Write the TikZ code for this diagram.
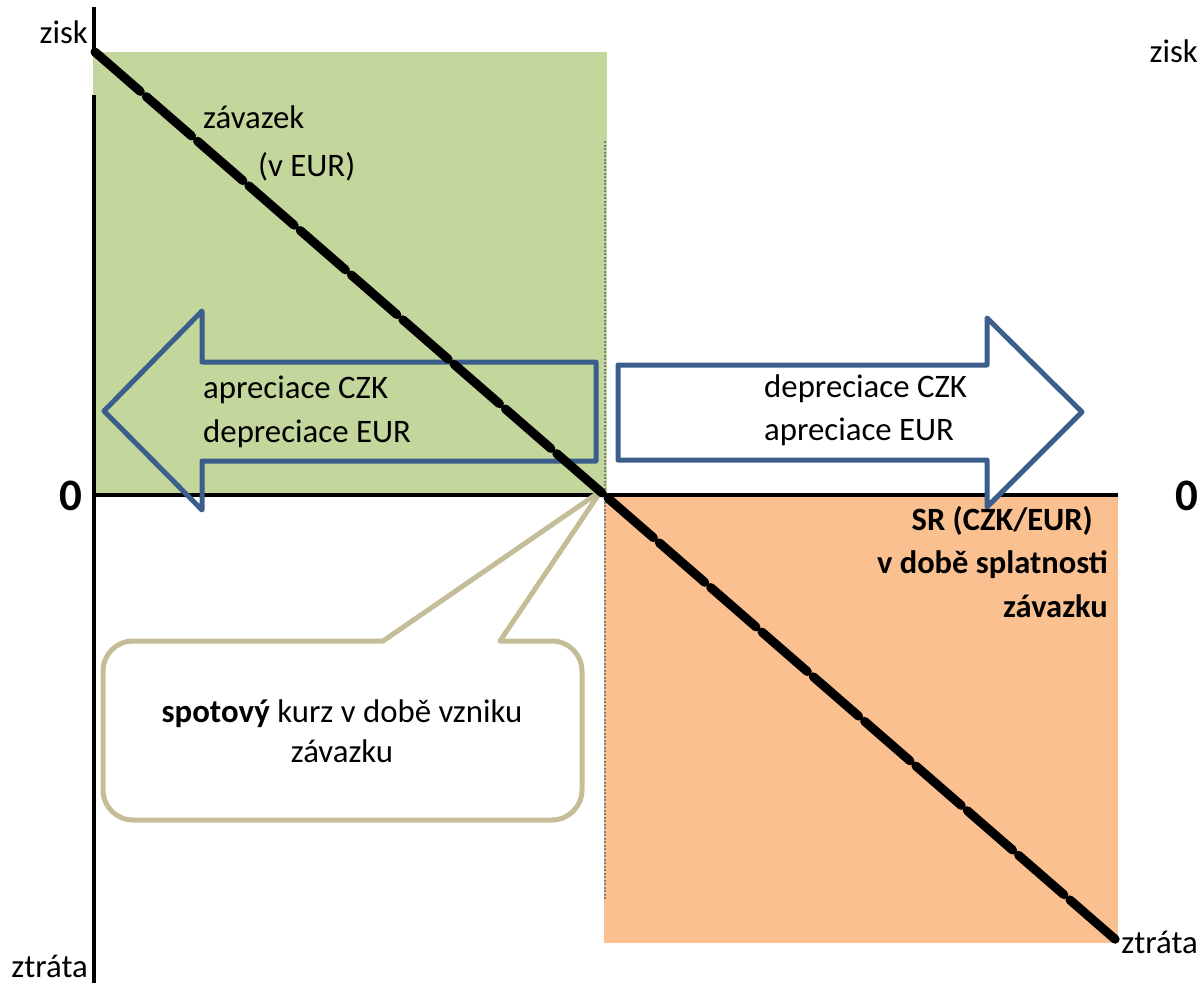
\documentclass[tikz,border=0pt]{standalone}
\usepackage{fontspec}
\setmainfont{Carlito}
\definecolor{gaingreen}{HTML}{C3D69B}
\definecolor{lossorange}{HTML}{FAC090}
\definecolor{arrowblue}{HTML}{3B5E8C}
\definecolor{bubbleline}{HTML}{C4BD97}
\begin{document}
\begin{tikzpicture}[x=1pt,y=-1pt,
  lbl/.style={inner sep=0pt, font=\fontsize{32.8}{38}\selectfont},
  boldlbl/.style={inner sep=0pt, font=\fontsize{32.5}{38}\selectfont\bfseries},
  zero/.style={inner sep=0pt, font=\fontsize{45}{50}\selectfont\bfseries},
  axis/.style={line width=3.5pt, black},
  payoff/.style={line width=9pt, line cap=round, dash pattern=on 60pt off 8pt},
  fxarrow/.style={draw=arrowblue, line width=5pt, line join=round},
  bubble/.style={draw=bubbleline, fill=white, line width=5pt, line join=round},
]
\path[use as bounding box] (0,0) rectangle (1201,983);

% profit and loss regions
\fill[gaingreen] (93,52) rectangle (607,495);
\fill[lossorange] (604,495) rectangle (1118,943);
\draw[gray, line width=1.5pt, dash pattern=on 2pt off 1.5pt] (605,141) -- (605,900);

% axes
\coordinate (ytop) at (94,7);
\coordinate (ygap1) at (94,52);
\coordinate (ygap2) at (94,95);
\coordinate (ybot) at (94,983);
\coordinate (xleft) at (93,495);
\coordinate (xright) at (1118,495);
\draw[axis] (ytop) -- (ygap1);
\draw[axis] (ygap2) -- (ybot);
\draw[axis] (xleft) -- (xright);

% currency movement arrows
\draw[fxarrow] (104,411) -- (202,311) -- (202,362) -- (596,362) -- (596,461)
  -- (202,461) -- (202,510) -- cycle;
\draw[fxarrow, fill=white] (618,365) -- (987,365) -- (987,318) -- (1082,412)
  -- (987,507) -- (987,460) -- (618,460) -- cycle;

% callout pointing to the spot rate at the origin
\coordinate (spot) at (601,491);
\draw[bubble] (383,641) -- (spot) -- (500,641) [rounded corners=30pt] -- (582,641)
  -- (582,820) -- (103,820) -- (103,641) [sharp corners] -- cycle;

% liability payoff line
\coordinate (pstart) at (95,52);
\coordinate (pend) at (1116,940);
\draw[payoff] (pstart) -- (pend);

% labels
\node[lbl, anchor=base east] (ziskL) at (88,43) {zisk};
\node[lbl, anchor=base east] (ziskR) at (1198,62) {zisk};
\node[lbl, anchor=base east] (ztrataL) at (88,977) {ztráta};
\node[lbl, anchor=base east] (ztrataR) at (1198,953) {ztráta};
\node[zero, anchor=base east] (zeroL) at (83,510) {0};
\node[zero, anchor=base west] (zeroR) at (1175,510) {0};

\node[lbl, anchor=base west] (zav) at (203,128) {závazek};
\node[lbl, anchor=base west] (zavEUR) at (258,176) {(v EUR)};

\node[lbl, anchor=base west] (apCZK) at (203,398) {apreciace CZK};
\node[lbl, anchor=base west] (depEUR) at (203,442) {depreciace EUR};
\node[lbl, anchor=base west] (depCZK) at (764,397) {depreciace CZK};
\node[lbl, anchor=base west] (apEUR) at (764,440) {apreciace EUR};

\node[boldlbl, anchor=base east] (sr1) at (1093,530) {SR (CZK/EUR)};
\node[boldlbl, anchor=base east] (sr2) at (1108,573) {v době splatnosti};
\node[boldlbl, anchor=base east] (sr3) at (1108,617) {závazku};

\node[lbl, anchor=base] (spot1) at (342,722) {\textbf{spotový} kurz v době vzniku};
\node[lbl, anchor=base] (spot2) at (342,762) {závazku};
\end{tikzpicture}
\end{document}
